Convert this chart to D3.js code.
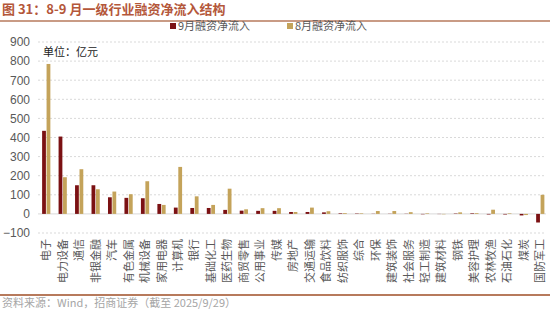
<!doctype html>
<html lang="zh">
  <head>
    <meta charset="utf-8">
    <title>8-9月一级行业融资净流入结构</title>
    <style>
      body { margin: 0; background: #fff; }
      svg text { font-family: "Noto Sans CJK SC", "DejaVu Sans", sans-serif; }
    </style>
  </head>
  <body>
    <script src="https://cdn.jsdelivr.net/npm/d3@7"></script>
    <script>

    var categories = ["电子","电力设备","通信","非银金融","汽车","有色金属","机械设备","家用电器","计算机","银行",
      "基础化工","医药生物","商贸零售","公用事业","传媒","房地产","交通运输","食品饮料","纺织服饰","综合",
      "环保","建筑装饰","社会服务","轻工制造","建筑材料","钢铁","美容护理","农林牧渔","石油石化","煤炭","国防军工"];

    var sep = [435, 405, 150, 150, 87, 84, 82, 52, 33, 31, 31, 21, 17, 16, 16, 10, 10, 8, 3, 2,
      1, 1, 1, -2, -1, 2, 3, -3, -3, -8, -45];
    var aug = [785, 192, 234, 129, 117, 103, 171, 47, 246, 92, 47, 132, 24, 30, 30, 10, 33, 14, 4, 3,
      15, 15, 9, 3, -2, 8, 4, 22, 3, -6, 100];

    var yTicks = [-100, 0, 100, 200, 300, 400, 500, 600, 700, 800, 900];
    var seriesNames = ["9月融资净流入", "8月融资净流入"];
    var colors = ["#7b1113", "#c4a35a"];

    var W = 550, H = 311;

    var svg = d3.select("body").append("svg")
      .attr("width", W)
      .attr("height", H);

    // title + rule
    svg.append("text")
      .attr("x", 2).attr("y", 14)
      .text("图 31：8-9 月一级行业融资净流入结构")
      .style("font-size", "13px")
      .style("font-weight", "bold")
      .style("fill", "#b4573a");

    svg.append("line")
      .attr("x1", 0).attr("x2", W)
      .attr("y1", 21).attr("y2", 21)
      .attr("stroke", "#b77a5c")
      .attr("stroke-width", 1.5);

    var x = d3.scaleBand()
      .domain(categories)
      .range([38, 548.5])
      .paddingInner(0.5)
      .paddingOuter(0.25);

    var xs = d3.scaleBand()
      .domain([0, 1])
      .range([0, x.bandwidth()])
      .paddingInner(0.15);

    var y = d3.scaleLinear()
      .domain([-100, 900])
      .range([233, 42]);

    // grid
    svg.append("g").selectAll("line")
      .data(yTicks.filter(function(d){ return d !== 0; }))
      .enter().append("line")
      .attr("x1", 38).attr("x2", 546)
      .attr("y1", function(d){ return y(d); })
      .attr("y2", function(d){ return y(d); })
      .attr("stroke", "#d9d9d9")
      .attr("stroke-dasharray", "2,2");

    svg.append("line")
      .attr("x1", 38).attr("x2", 546)
      .attr("y1", y(0)).attr("y2", y(0))
      .attr("stroke", "#d9d9d9");

    // y axis labels
    var yAxis = svg.append("g")
      .attr("transform", "translate(30,0)")
      .call(d3.axisLeft(y).tickValues(yTicks).tickSize(0).tickPadding(0));
    yAxis.select(".domain").remove();
    yAxis.selectAll("text")
      .style("font-size", "12px")
      .style("fill", "#595959")
      .style("font-family", "Arial, 'Liberation Sans', sans-serif");

    // bars
    var series = [sep, aug];
    series.forEach(function(vals, s){
      svg.append("g").selectAll("rect")
        .data(vals)
        .enter().append("rect")
        .attr("x", function(d, i){ return x(categories[i]) + xs(s); })
        .attr("y", function(d){ return y(Math.max(0, d)); })
        .attr("width", xs.bandwidth())
        .attr("height", function(d){ return Math.abs(y(d) - y(0)); })
        .attr("fill", colors[s]);
    });

    // x labels, rotated
    svg.append("g").selectAll("text")
      .data(categories)
      .enter().append("text")
      .attr("transform", function(d){
        return "translate(" + (x(d) + x.bandwidth() / 2 + 4) + ",239) rotate(-90)";
      })
      .attr("text-anchor", "end")
      .text(function(d){ return d; })
      .style("font-size", "11px")
      .style("fill", "#595959");

    // legend
    var legend = svg.append("g").attr("transform", "translate(170,30)");
    var lx = [0, 117];
    seriesNames.forEach(function(n, i){
      legend.append("rect")
        .attr("x", lx[i]).attr("y", -7)
        .attr("width", 6).attr("height", 6)
        .attr("fill", colors[i]);
      legend.append("text")
        .attr("x", lx[i] + 8).attr("y", 0)
        .text(n)
        .style("font-size", "11px")
        .style("fill", "#595959");
    });

    svg.append("text")
      .attr("x", 43).attr("y", 56)
      .text("单位：亿元")
      .style("font-size", "11px")
      .style("fill", "#222");

    // footer
    svg.append("line")
      .attr("x1", 0).attr("x2", W)
      .attr("y1", 295).attr("y2", 295)
      .attr("stroke", "#b77a5c")
      .attr("stroke-width", 2);

    svg.append("text")
      .attr("x", 2).attr("y", 307)
      .text("资料来源：Wind，招商证券（截至 2025/9/29）")
      .style("font-size", "11px")
      .style("fill", "#a6a6a6");

    </script>
  </body>
</html>
